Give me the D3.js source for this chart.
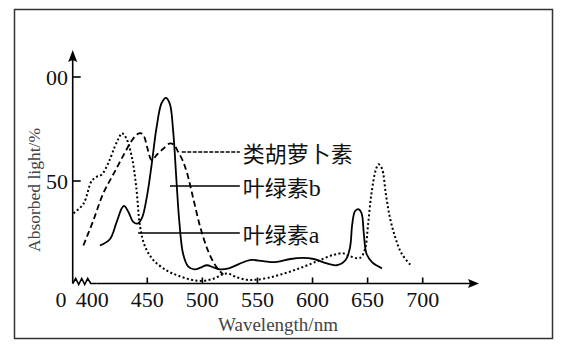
<!DOCTYPE html>
<html><head><meta charset="utf-8">
<script src="https://cdn.jsdelivr.net/npm/d3@7"></script>
<style>body{margin:0;background:#fff}svg{display:block}</style>
</head><body><svg id="c" width="564" height="346"></svg>
<script>
// ---- data ----
const xTicks = [400, 450, 500, 550, 600, 650, 700];
const yTicks = [50, 100];
const yTickLabels = ["50", "00"];
const chlB = [[407,19],[416,22],[422,30],[427,37],[429,38],[433,35],[437,30.5],[441,29.5],[445,32],[449.5,42],[454,58],[458.5,76],[463,87.5],[467,90],[470.5,87],[473.5,74],[476.5,50],[479,31],[482.5,15],[487,9],[493,7.5],[499,8.5],[504,9.5],[510,8.5],[516,7.5],[524,8],[533,10],[543,12],[555,11.5],[566,11],[580,12.5],[591,13],[601,12.5],[612,10.5],[622,9.5],[630,12],[634,18],[636,29],[638.5,35.5],[641.5,36.5],[644.5,34.5],[646.5,25],[649,15],[654,11],[663,8]];
const carot = [[392,19],[401,31],[410,44],[421,55],[430,64],[436,69.5],[441,72.5],[444,73],[447,71.5],[450,66],[454,60],[458.5,62.5],[464.5,65.5],[470,68],[474,67.5],[478,64],[482,60],[486,54],[492,41],[498,28],[504,18],[510,11],[514.5,7.5],[519,5]];
const chlA = [[383,34.5],[392,39],[399.5,50],[404,52],[408.5,53],[414.5,58.5],[420.5,66.5],[424,70.5],[427,73],[431,70.5],[436,61.5],[440,47],[443.5,28],[448,18.5],[455.5,12],[467.5,7],[478,4.5],[490,2.5],[500,2],[510,3],[518,5],[523,5.5],[530,4],[540,2.5],[548,2.5],[560,3.5],[574,5.5],[588,8],[600,10.5],[607,12],[619,14.5],[628,15.2],[634,13.8],[643,13],[647.5,17],[650.5,29.5],[653.5,44],[657.5,55.5],[660,58],[663,56],[666.5,44],[670,33],[675,23],[681,15],[690,9]];
const labels = [
  {text:"类胡萝卜素", suffix:"", from:[481.3,64], to:534, dash:"4,1.5", ly:152},
  {text:"叶绿素", suffix:"b", from:[470.6,47.6], to:534, dash:null, ly:186},
  {text:"叶绿素", suffix:"a", from:[441.6,24.9], to:534, dash:null, ly:233}
];

const svg = d3.select("#c");
svg.append("rect").attr("x",14.5).attr("y",9.5).attr("width",538).attr("height",329)
  .attr("fill","none").attr("stroke","#333").attr("stroke-width",1.5);

const x = d3.scaleLinear().domain([400,700]).range([92.2,422.7]);
const y = d3.scaleLinear().domain([0,100]).range([285,77]);
const ax = 72.7, ay = y(0) - 1.5;

// x axis line + zigzag break
const g = svg.append("g").attr("stroke","#000").attr("stroke-width",1.6).attr("fill","none");
const zz = [[ax,ay],[ax+3,ay-5],[ax+6,ay+1],[ax+9,ay-5],[ax+12,ay+1],[ax+15,ay-5],[ax+18,ay],[x(400)+4,ay]];
g.append("path").attr("d", d3.line()(zz));
g.append("line").attr("x1",x(400)+4).attr("x2",470).attr("y1",ay).attr("y2",ay);
svg.append("path").attr("d",`M479,${ay} L468,${ay-4.5} L470,${ay} L468,${ay+4.5}Z`).attr("fill","#000");
// y axis
g.append("line").attr("x1",ax).attr("x2",ax).attr("y1",ay).attr("y2",60);
svg.append("path").attr("d",`M${ax},50 L${ax-4.5},62 L${ax},60 L${ax+4.5},62Z`).attr("fill","#000");

// x ticks
xTicks.forEach(t=>{
  if(t>400) g.append("line").attr("x1",x(t)).attr("x2",x(t)).attr("y1",ay).attr("y2",ay-6);
  svg.append("text").attr("x",x(t)).attr("y",307).attr("text-anchor","middle")
    .attr("font-family","Liberation Serif").attr("font-size",22).attr("fill","#111").text(t);
});
svg.append("text").attr("x",61).attr("y",307).attr("text-anchor","middle")
  .attr("font-family","Liberation Serif").attr("font-size",22).attr("fill","#111").text("0");
yTicks.forEach((t,i)=>{
  g.append("line").attr("x1",ax).attr("x2",ax+8).attr("y1",y(t)).attr("y2",y(t));
  svg.append("text").attr("x",68).attr("y",y(t)+7.5).attr("text-anchor","end")
    .attr("font-family","Liberation Serif").attr("font-size",22).attr("fill","#111").text(yTickLabels[i]);
});

// titles
svg.append("text").attr("x",278).attr("y",331).attr("text-anchor","middle")
  .attr("font-family","Liberation Serif").attr("font-size",19).attr("fill","#444").text("Wavelength/nm");
svg.append("text").attr("transform","translate(40,190) rotate(-90)").attr("text-anchor","middle")
  .attr("font-family","Liberation Serif").attr("font-size",17.5).attr("fill","#444").text("Absorbed light/%");

// curves
const line = d3.line().x(d=>x(d[0])).y(d=>y(d[1])).curve(d3.curveCatmullRom.alpha(0.5));
svg.append("path").datum(chlA).attr("d",line).attr("fill","none").attr("stroke","#000")
  .attr("stroke-width",2).attr("stroke-dasharray","2,2.4");
svg.append("path").datum(carot).attr("d",line).attr("fill","none").attr("stroke","#000")
  .attr("stroke-width",1.8).attr("stroke-dasharray","6,3.5");
svg.append("path").datum(chlB).attr("d",line).attr("fill","none").attr("stroke","#000")
  .attr("stroke-width",1.8);

// leader lines + labels
labels.forEach(l=>{
  const ln = svg.append("line").attr("x1",x(l.from[0])).attr("y1",l.ly).attr("x2",x(l.to)).attr("y2",l.ly)
    .attr("stroke","#000").attr("stroke-width",1.4);
  if(l.dash) ln.attr("stroke-dasharray",l.dash);
  const t = svg.append("text").attr("x",x(l.to)+3).attr("y",l.ly+10)
    .attr("font-family","Noto Sans CJK SC").attr("font-size",22).attr("fill","#111").text(l.text);
  if(l.suffix) t.append("tspan").attr("font-family","Liberation Serif").attr("font-size",24).text(l.suffix);
});
</script></body></html>
